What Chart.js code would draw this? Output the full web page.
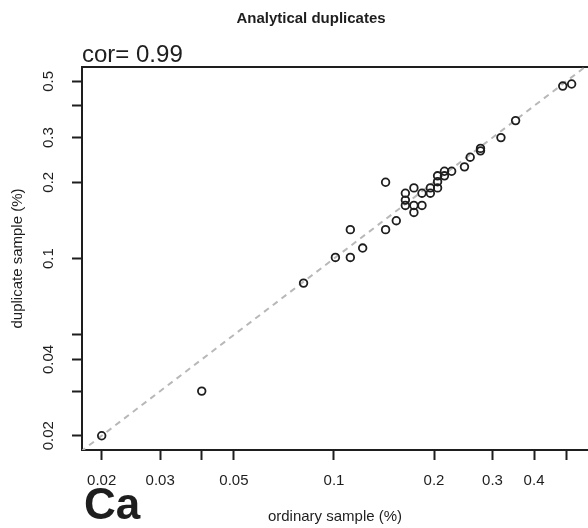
<!DOCTYPE html>
<html>
<head>
<meta charset="utf-8">
<script src="https://cdn.jsdelivr.net/npm/chart.js@4/dist/chart.umd.min.js"></script>
<style>
  html, body { margin: 0; padding: 0; background: #fff; }
  #wrap { width: 588px; height: 528px; position: relative; }
</style>
</head>
<body>
<div id="wrap"><canvas id="c" width="588" height="528"></canvas></div>
<script>
// ---- data ----
const ordinarySample  = [0.020, 0.040, 0.081, 0.101, 0.112, 0.112, 0.122, 0.143, 0.143, 0.154,
                         0.164, 0.164, 0.164, 0.174, 0.174, 0.174, 0.184, 0.184, 0.195, 0.195,
                         0.205, 0.205, 0.205, 0.215, 0.215, 0.226, 0.247, 0.257, 0.276, 0.276,
                         0.318, 0.352, 0.488, 0.519];
const duplicateSample = [0.020, 0.030, 0.080, 0.101, 0.101, 0.130, 0.110, 0.130, 0.200, 0.141,
                         0.181, 0.170, 0.162, 0.190, 0.162, 0.152, 0.181, 0.162, 0.181, 0.190,
                         0.190, 0.201, 0.212, 0.212, 0.221, 0.221, 0.230, 0.251, 0.266, 0.272,
                         0.300, 0.350, 0.479, 0.488];
const identityLine = [0.001, 1];
const xTickValues = [0.02, 0.03, 0.04, 0.05, 0.1, 0.2, 0.3, 0.4, 0.5];
const xTickLabels = ['0.02', '0.03', '', '0.05', '0.1', '0.2', '0.3', '0.4', ''];
const yTickValues = [0.02, 0.03, 0.04, 0.05, 0.1, 0.2, 0.3, 0.4, 0.5];
const yTickLabels = ['0.02', '', '0.04', '', '0.1', '0.2', '0.3', '', '0.5'];
const xRange = [0.01745, 0.5813];
const yRange = [0.01757, 0.5696];
const titleText = 'Analytical duplicates';
const corText = 'cor= 0.99';
const elementText = 'Ca';
const xTitle = 'ordinary sample (%)';
const yTitle = 'duplicate sample (%)';

const FONT = '"Liberation Sans", Arial, Helvetica, sans-serif';
const INK = '#1e1e1e';

const points = ordinarySample.map((x, i) => ({ x: x, y: duplicateSample[i] }));
const diag = identityLine.map(v => ({ x: v, y: v }));

const bgPlugin = {
  id: 'bg',
  beforeDraw(chart) {
    const ctx = chart.ctx;
    ctx.save();
    ctx.fillStyle = '#fff';
    ctx.fillRect(0, 0, chart.width, chart.height);
    ctx.restore();
  }
};

const textPlugin = {
  id: 'texts',
  afterDraw(chart) {
    const ctx = chart.ctx;
    const ys = chart.scales.y;
    const area = chart.chartArea;
    ctx.save();
    // rotated y tick labels
    ctx.fillStyle = INK;
    ctx.font = '15px ' + FONT;
    ctx.textAlign = 'center';
    ctx.textBaseline = 'middle';
    yTickValues.forEach((v, i) => {
      if (!yTickLabels[i]) return;
      const py = ys.getPixelForValue(v);
      ctx.save();
      ctx.translate(area.left - 33, py);
      ctx.rotate(-Math.PI / 2);
      ctx.fillText(yTickLabels[i], 0, 0);
      ctx.restore();
    });
    // main title
    ctx.font = 'bold 15px ' + FONT;
    ctx.textAlign = 'center';
    ctx.textBaseline = 'alphabetic';
    ctx.fillText(titleText, 311, 23);
    // cor text
    ctx.font = '24px ' + FONT;
    ctx.textAlign = 'left';
    ctx.fillText(corText, area.left + 0, 62);
    // element label
    ctx.font = 'bold 44px ' + FONT;
    ctx.fillText(elementText, area.left + 2, 519);
    ctx.restore();
  }
};

new Chart(document.getElementById('c'), {
  type: 'scatter',
  data: {
    datasets: [
      {
        data: points,
        pointStyle: 'circle',
        pointRadius: 3.8,
        pointBorderWidth: 1.8,
        pointBorderColor: INK,
        pointBackgroundColor: 'rgba(0,0,0,0)',
        showLine: false
      },
      {
        data: diag,
        showLine: true,
        borderColor: '#b8b8b8',
        borderWidth: 2,
        borderDash: [6, 5],
        pointRadius: 0,
        fill: false
      }
    ]
  },
  options: {
    responsive: false,
    animation: false,
    events: [],
    layout: { autoPadding: false, padding: { top: 67, left: 0, right: 0, bottom: 0 } },
    plugins: { legend: { display: false }, tooltip: { enabled: false }, title: { display: false } },
    scales: {
      x: {
        type: 'logarithmic',
        position: 'bottom',
        min: xRange[0],
        max: xRange[1],
        afterBuildTicks(s) { s.ticks = xTickValues.map(v => ({ value: v })); },
        afterFit(s) { s.height = 78; s.paddingLeft = 0; s.paddingRight = 0; },
        ticks: {
          autoSkip: false, maxRotation: 0, minRotation: 0, padding: 12,
          color: INK, font: { family: FONT, size: 15 },
          callback(v, i) { return xTickLabels[i]; }
        },
        grid: { drawOnChartArea: false, drawTicks: true, tickLength: 10, tickWidth: 2, tickColor: INK, color: INK },
        border: { display: true, color: INK, width: 2 },
        title: { display: true, text: xTitle, color: INK, font: { family: FONT, size: 15 }, padding: { top: 0, bottom: 2 } }
      },
      xTop: {
        type: 'logarithmic',
        position: 'top',
        min: xRange[0],
        max: xRange[1],
        afterFit(s) { s.height = 0; s.paddingLeft = 0; s.paddingRight = 0; },
        ticks: { display: false },
        grid: { display: false, drawTicks: false },
        border: { display: true, color: INK, width: 2 }
      },
      y: {
        type: 'logarithmic',
        position: 'left',
        min: yRange[0],
        max: yRange[1],
        afterBuildTicks(s) { s.ticks = yTickValues.map(v => ({ value: v })); },
        afterFit(s) { s.width = 82; s.paddingTop = 0; s.paddingBottom = 0; },
        ticks: { display: false },
        grid: { drawOnChartArea: false, drawTicks: true, tickLength: 10, tickWidth: 2, tickColor: INK, color: INK },
        border: { display: true, color: INK, width: 2 },
        title: { display: true, text: yTitle, color: INK, font: { family: FONT, size: 15 }, padding: { top: 9, bottom: 0 } }
      }
    }
  },
  plugins: [bgPlugin, textPlugin]
});
</script>
</body>
</html>
